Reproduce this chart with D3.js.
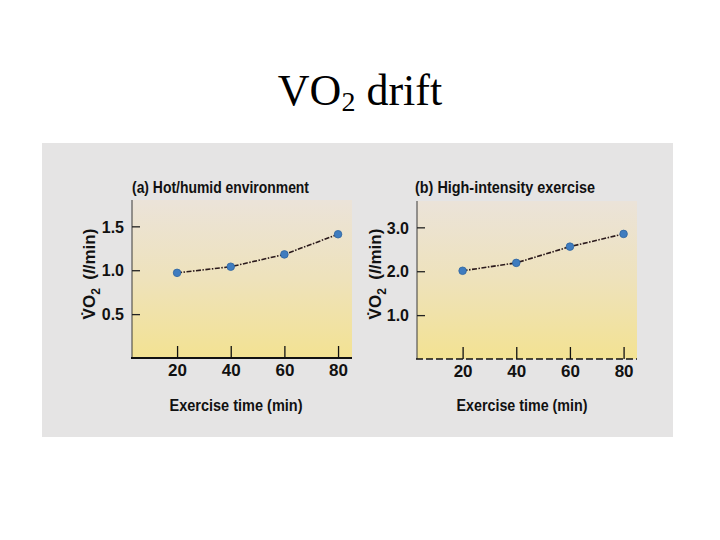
<!DOCTYPE html>
<html>
<head>
<meta charset="utf-8">
<script src="https://cdn.jsdelivr.net/npm/d3@7"></script>
<style>
  html, body { margin: 0; padding: 0; background: #ffffff; }
  svg { display: block; }
</style>
</head>
<body>
<svg id="chart" width="720" height="540"></svg>
<script>
// ---- data ----
const mainTitle = "VO";
const times = [20, 40, 60, 80];
const hotHumidVO2 = [0.97, 1.04, 1.18, 1.41];
const highIntensityVO2 = [2.01, 2.19, 2.56, 2.85];
const hotYTicks = [0.5, 1.0, 1.5];
const highYTicks = [1.0, 2.0, 3.0];
const xTicks = [20, 40, 60, 80];
const panelTitles = ["(a) Hot/humid environment", "(b) High-intensity exercise"];
const xAxisLabel = "Exercise time (min)";

const svg = d3.select("#chart");
const FONT = "'Liberation Sans Narrow', 'Arial Narrow', 'Liberation Sans', Arial, sans-serif";

// defs: gradient for plot areas
const defs = svg.append("defs");
const grad = defs.append("linearGradient").attr("id", "plotGrad")
  .attr("x1", 0).attr("y1", 0).attr("x2", 0).attr("y2", 1);
grad.append("stop").attr("offset", "0%").attr("stop-color", "#ebe3d9");
grad.append("stop").attr("offset", "50%").attr("stop-color", "#eee2bb");
grad.append("stop").attr("offset", "100%").attr("stop-color", "#f3e292");

// main title
const t = svg.append("text")
  .attr("x", 360).attr("y", 105)
  .attr("text-anchor", "middle")
  .attr("font-family", "'Liberation Serif', 'Times New Roman', serif")
  .attr("font-size", 44)
  .attr("fill", "#000");
t.append("tspan").text(mainTitle);
t.append("tspan").attr("font-size", 28).attr("dy", 6).text("2");
t.append("tspan").attr("dy", -6).text(" drift");

// figure panel background
svg.append("rect")
  .attr("x", 42).attr("y", 143).attr("width", 631).attr("height", 294)
  .attr("fill", "#e5e4e4");

const panels = [
  { title: panelTitles[0], values: hotHumidVO2, yTicks: hotYTicks, yMax: 1.8,
    x0: 132, x1: 352, y0: 200, y1: 358, xDom: [3.2, 85.2], dashedBase: false,
    yLabelX: 95, xLabelX: 236, titleX: 132, titleW: 177, xLabW: 133 },
  { title: panelTitles[1], values: highIntensityVO2, yTicks: highYTicks, yMax: 3.6,
    x0: 417, x1: 637, y0: 201, y1: 359, xDom: [3, 85], dashedBase: true,
    yLabelX: 381, xLabelX: 522, titleX: 415, titleW: 180, xLabW: 131 }
];

panels.forEach(p => {
  const g = svg.append("g");
  const x = d3.scaleLinear().domain(p.xDom).range([p.x0, p.x1]);
  const y = d3.scaleLinear().domain([0, p.yMax]).range([p.y1, p.y0]);

  // plot area
  g.append("rect")
    .attr("x", p.x0).attr("y", p.y0)
    .attr("width", p.x1 - p.x0).attr("height", p.y1 - p.y0)
    .attr("fill", "url(#plotGrad)");

  // left axis line (thin)
  g.append("line")
    .attr("x1", p.x0).attr("x2", p.x0)
    .attr("y1", p.y0).attr("y2", p.y1)
    .attr("stroke", "#3a3a3a").attr("stroke-width", 1);

  // y axis
  const yAxis = d3.axisLeft(y).tickValues(p.yTicks)
    .tickFormat(d3.format(".1f")).tickSizeInner(-8).tickSizeOuter(0).tickPadding(8);
  const ya = g.append("g").attr("transform", `translate(${p.x0},0)`).call(yAxis);
  ya.select(".domain").remove();
  ya.selectAll(".tick line").attr("stroke", "#222").attr("stroke-width", 1.3);
  ya.selectAll(".tick text")
    .attr("font-family", FONT).attr("font-weight", "bold").attr("font-size", 16)
    .attr("fill", "#111").attr("dy", "0.36em");

  // x axis
  const xAxis = d3.axisBottom(x).tickValues(xTicks)
    .tickSizeInner(-12).tickSizeOuter(0).tickPadding(6).tickFormat(d3.format("d"));
  const xa = g.append("g").attr("transform", `translate(0,${p.y1})`).call(xAxis);
  xa.select(".domain").remove();
  xa.selectAll(".tick line").attr("stroke", "#111").attr("stroke-width", 1.3);
  xa.selectAll(".tick text")
    .attr("font-family", FONT).attr("font-weight", "bold").attr("font-size", 17)
    .attr("fill", "#111").attr("dy", "0.71em");

  // baseline
  g.append("line")
    .attr("x1", p.x0 - 1).attr("x2", p.x1)
    .attr("y1", p.y1).attr("y2", p.y1)
    .attr("stroke", "#111")
    .attr("stroke-width", p.dashedBase ? 1.5 : 2.2)
    .attr("stroke-dasharray", p.dashedBase ? "7,3" : null);

  // data line
  const pts = times.map((tm, i) => [tm, p.values[i]]);
  g.append("path")
    .datum(pts)
    .attr("d", d3.line().x(d => x(d[0])).y(d => y(d[1])))
    .attr("fill", "none")
    .attr("stroke", "#2b1a1c")
    .attr("stroke-width", 1.6)
    .attr("stroke-dasharray", "5,1.5,1.5,1.5");

  g.selectAll("circle.pt").data(pts).enter().append("circle")
    .attr("class", "pt")
    .attr("cx", d => x(d[0])).attr("cy", d => y(d[1]))
    .attr("r", 3.8)
    .attr("fill", "#3f7cbf")
    .attr("stroke", "#2f64a0").attr("stroke-width", 0.8);

  // panel title
  g.append("text")
    .attr("x", p.titleX).attr("y", 193)
    .attr("font-family", FONT).attr("font-weight", "bold").attr("font-size", 17)
    .attr("fill", "#111")
    .attr("textLength", p.titleW).attr("lengthAdjust", "spacingAndGlyphs")
    .text(p.title);

  // x axis label
  g.append("text")
    .attr("x", p.xLabelX - p.xLabW / 2).attr("y", 411)
    .attr("font-family", FONT).attr("font-weight", "bold").attr("font-size", 17)
    .attr("fill", "#111")
    .attr("textLength", p.xLabW).attr("lengthAdjust", "spacingAndGlyphs")
    .text(xAxisLabel);

  // y axis label (rotated)
  const yl = g.append("text")
    .attr("transform", `translate(${p.yLabelX},274) rotate(-90)`)
    .attr("text-anchor", "middle")
    .attr("font-family", FONT).attr("font-weight", "bold").attr("font-size", 17)
    .attr("fill", "#111");
  yl.append("tspan").text("V\u0307O");
  yl.append("tspan").attr("font-size", 12).attr("dy", 5).text("2");
  yl.append("tspan").attr("dy", -5).text("\u2002(");
  yl.append("tspan").attr("font-style", "italic").text("l");
  yl.append("tspan").text("/min)");
});
</script>
</body>
</html>
